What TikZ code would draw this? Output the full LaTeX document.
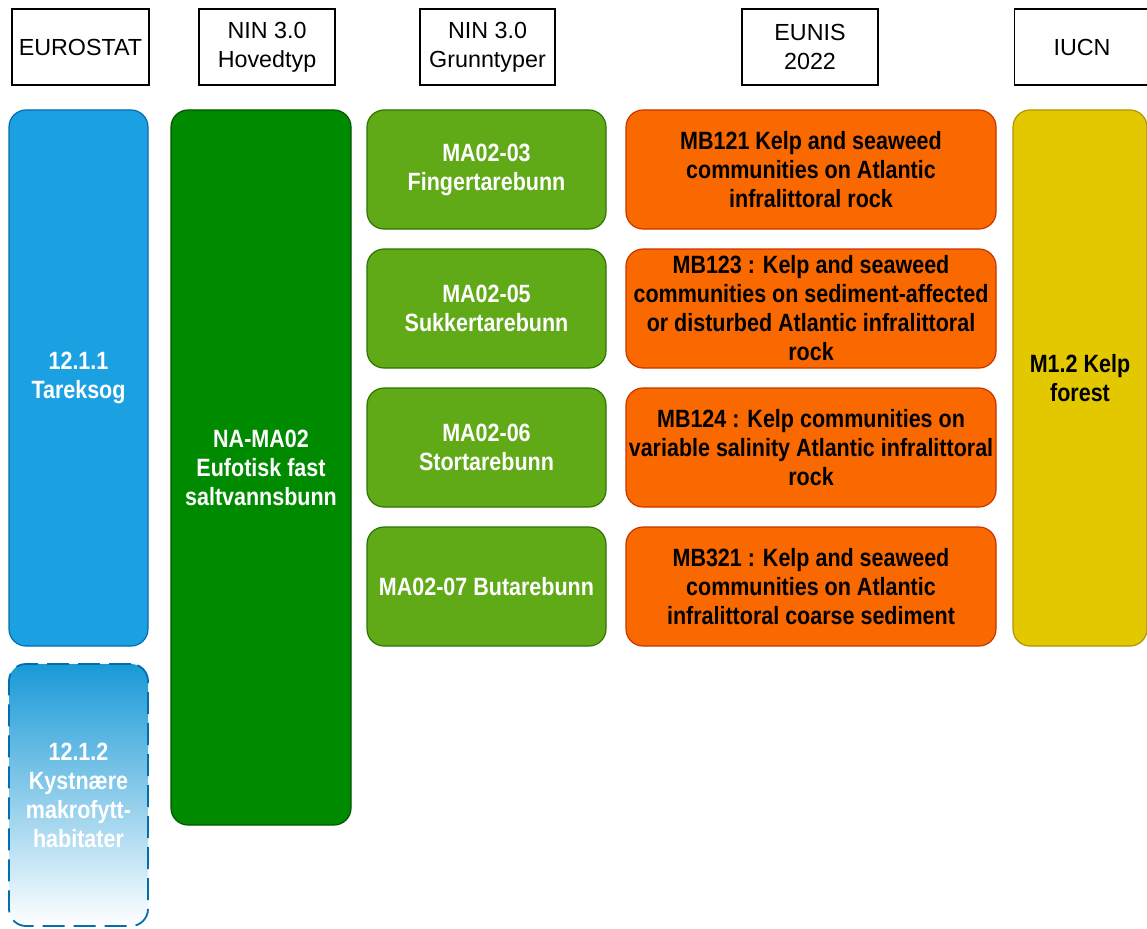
\documentclass[tikz,border=0pt]{standalone}
\usepackage{fontspec}
\setmainfont{Liberation Sans}
\newfontfamily\narrowsans{Liberation Sans}[FakeStretch=0.86]

\definecolor{skyfill}{HTML}{1BA1E2}
\definecolor{skyline}{HTML}{006EAF}
\definecolor{darkfill}{HTML}{008A00}
\definecolor{darkline}{HTML}{005700}
\definecolor{limefill}{HTML}{60A917}
\definecolor{limeline}{HTML}{2D7600}
\definecolor{orangefill}{HTML}{FA6800}
\definecolor{orangeline}{HTML}{C73500}
\definecolor{goldfill}{HTML}{E3C800}
\definecolor{goldline}{HTML}{B09500}

\tikzset{%
  head box/.style={draw=black,line width=1.3pt,fill=white,inner sep=0pt,
    minimum height=76pt,align=center,font=\fontsize{23.3}{29}\selectfont},%
  type box/.style={rounded corners=17pt,line width=1.2pt,inner sep=0pt,
    align=center,font=\narrowsans\fontsize{25}{29}\selectfont\bfseries},%
  sky box/.style={type box,fill=skyfill,draw=skyline,text=white},%
  faded box/.style={type box,top color=skyfill!95!black,bottom color=white,
    draw=skyline,line width=1.8pt,dash pattern=on 22pt off 9pt,text=white},%
  dark box/.style={type box,fill=darkfill,draw=darkline,text=white},%
  lime box/.style={type box,fill=limefill,draw=limeline,text=white,
    minimum width=239pt,minimum height=119pt},%
  orange box/.style={type box,fill=orangefill,draw=orangeline,text=black,
    minimum width=370pt,minimum height=119pt},%
  gold box/.style={type box,fill=goldfill,draw=goldline,text=black}%
}

\begin{document}
\begin{tikzpicture}[x=1pt,y=-1pt]

%% some definitions

\def\headY{47} % centre of the header row
\def\limeX{486.5} % centre of the grunntyper column
\def\orangeX{811} % centre of the EUNIS column

\useasboundingbox (0,0) rectangle (1147,928);

%% column headers

\node[head box,minimum width=137pt] (hEurostat) at (80.5,\headY) {EUROSTAT};
\node[head box,minimum width=136pt] (hHovedtyp) at (267,\headY)
    {NIN 3.0\\Hovedtyp};
\node[head box,minimum width=135pt] (hGrunntyper) at (487.5,\headY)
    {NIN 3.0\\Grunntyper};
\node[head box,minimum width=136pt] (hEunis) at (810,\headY) {EUNIS\\2022};
\node[head box,minimum width=135pt] (hIucn) at (1082,\headY) {IUCN};

%% EUROSTAT and NIN main type

\node[sky box,minimum width=139pt,minimum height=536pt] (tareskog)
    at (78.5,378) {12.1.1\\Tareksog};
\node[faded box,minimum width=139pt,minimum height=262pt] (kystnaere)
    at (78.5,795) {12.1.2\\Kystnære\\makrofytt-\\habitater};
\node[dark box,minimum width=180pt,minimum height=715pt] (naMA)
    at (261,467.5) {NA-MA02\\Eufotisk fast\\saltvannsbunn};

%% NIN basic types

\node[lime box] (finger) at (\limeX,169.5) {MA02-03\\Fingertarebunn};
\node[lime box] (sukker) at (\limeX,308.5) {MA02-05\\Sukkertarebunn};
\node[lime box] (stortare) at (\limeX,447.5) {MA02-06\\Stortarebunn};
\node[lime box] (butare) at (\limeX,586.5) {MA02-07 Butarebunn};

%% EUNIS habitats

\node[orange box] (mbA) at (\orangeX,169.5)
    {MB121 Kelp and seaweed\\communities on Atlantic\\infralittoral rock};
\node[orange box] (mbB) at (\orangeX,308.5)
    {MB123 : Kelp and seaweed\\communities on sediment-affected\\
     or disturbed Atlantic infralittoral\\rock};
\node[orange box] (mbC) at (\orangeX,447.5)
    {MB124 : Kelp communities on\\variable salinity Atlantic infralittoral\\rock};
\node[orange box] (mbD) at (\orangeX,586.5)
    {MB321 : Kelp and seaweed\\communities on Atlantic\\
     infralittoral coarse sediment};

%% IUCN

\node[gold box,minimum width=134pt,minimum height=536pt] (kelpForest)
    at (1080,378) {M1.2 Kelp\\forest};

\end{tikzpicture}
\end{document}
